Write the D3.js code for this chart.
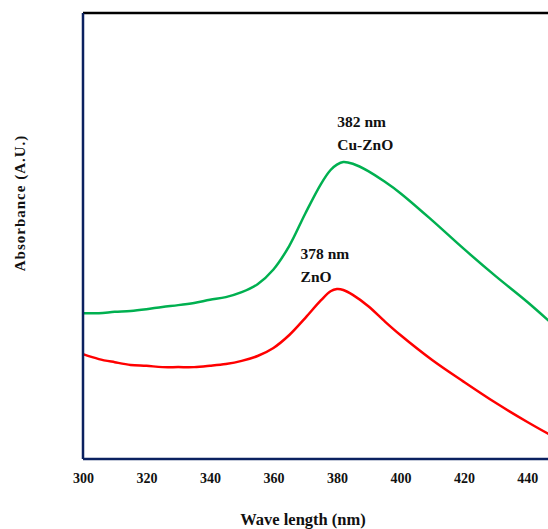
<!DOCTYPE html>
<html>
<head>
<meta charset="utf-8">
<script src="https://cdn.jsdelivr.net/npm/d3@7"></script>
<style>
body{margin:0;background:#fff}
text{font-family:"Liberation Serif","Times New Roman",serif;font-weight:bold;fill:#111}
</style>
</head>
<body>
<div class="chart"></div>
<script>
// wavelength (nm)
const wavelength=[300,305,310,315,320,325,330,335,340,345,350,355,360,365,370,375,378,380,382,385,390,395,400,410,420,430,440,450]
// absorbance, arbitrary units
const cuZnO=[0.327,0.327,0.330,0.332,0.336,0.341,0.345,0.350,0.357,0.363,0.374,0.392,0.425,0.478,0.550,0.617,0.648,0.660,0.666,0.662,0.645,0.622,0.596,0.535,0.471,0.410,0.352,0.289]
const znO=[0.235,0.224,0.217,0.211,0.209,0.206,0.206,0.206,0.209,0.213,0.220,0.231,0.249,0.278,0.316,0.356,0.376,0.381,0.379,0.368,0.342,0.309,0.278,0.222,0.173,0.126,0.083,0.043]
const xTicks=[300,320,340,360,380,400,420,440]
const peaks=[
	{nm:382,label:'382 nm',name:'Cu-ZnO'},
	{nm:378,label:'378 nm',name:'ZnO'}
]

const margin=({top:13,right:0,bottom:70,left:83})
const W=548,H=529
const width=W-margin.left,height=H-margin.top-margin.bottom

let x=d3.scaleLinear()
	.domain([300,446.5])
	.range([0,width])
let y=d3.scaleLinear()
	.domain([0,1])
	.range([height,0])

let svg=d3.select('.chart').append('svg')
	.attr('width',W)
	.attr('height',H)
	.append('g')
	.attr('transform','translate('+margin.left+','+margin.top+')')

const line=d3.line()
	.x((d,i)=>x(wavelength[i]))
	.y(d=>y(d))
	.curve(d3.curveCatmullRom.alpha(0.5))

svg.append('path')
	.attr('d',line(cuZnO))
	.attr('fill','none')
	.attr('stroke','#00b050')
	.attr('stroke-width',2.5)

svg.append('path')
	.attr('d',line(znO))
	.attr('fill','none')
	.attr('stroke','#ff0000')
	.attr('stroke-width',2.5)

// frame
svg.append('line')
	.attr('x1',0).attr('x2',width+10)
	.attr('y1',0).attr('y2',0)
	.attr('stroke','#000').attr('stroke-width',2.5)
svg.append('line')
	.attr('x1',0).attr('x2',0)
	.attr('y1',0).attr('y2',height)
	.attr('stroke','#0b2160').attr('stroke-width',2.5)
svg.append('line')
	.attr('x1',0).attr('x2',width+10)
	.attr('y1',height).attr('y2',height)
	.attr('stroke','#0b2160').attr('stroke-width',2.5)

const xAxis=d3.axisBottom(x)
	.tickValues(xTicks)
	.tickSize(0)
	.tickPadding(14)

svg.append('g')
	.attr('class','axis x-axis')
	.attr('transform',`translate(0,${height})`)
	.call(xAxis)
	.call(g=>g.select('.domain').remove())
	.selectAll('text')
	.attr('font-size',14)
	.attr('font-family','"Liberation Serif",serif')
	.attr('font-weight','bold')
	.attr('fill','#111')

svg.append('text')
	.attr('x',220)
	.attr('y',height+66)
	.attr('text-anchor','middle')
	.attr('font-size',16.5)
	.text('Wave length (nm)')

svg.append('text')
	.attr('transform',`translate(-58,${190}) rotate(-90)`)
	.attr('text-anchor','middle')
	.attr('font-size',15)
	.attr('letter-spacing',1)
	.text('Absorbance (A.U.)')

// peak labels
const labelPos=[{dx:-6,y1:114,y2:137},{dx:-30,y1:246,y2:269}]
peaks.forEach((p,i)=>{
	const lx=x(p.nm)+labelPos[i].dx
	svg.append('text')
		.attr('x',lx).attr('y',labelPos[i].y1)
		.attr('font-size',15.5)
		.text(p.label)
	svg.append('text')
		.attr('x',lx).attr('y',labelPos[i].y2)
		.attr('font-size',15.5)
		.text(p.name)
})
</script>
</body>
</html>
